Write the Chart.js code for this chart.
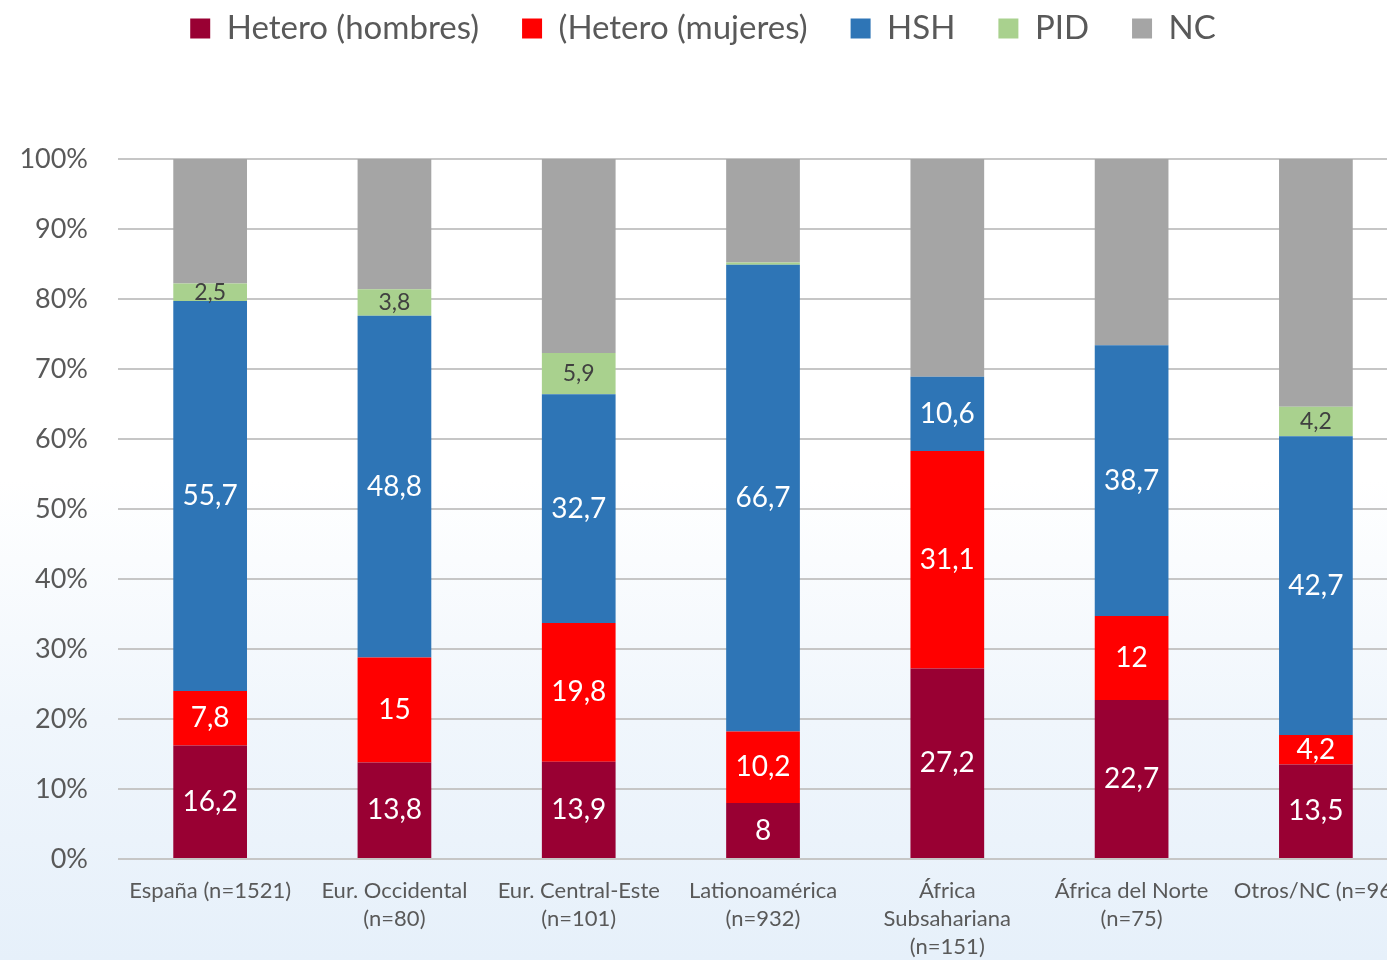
<!DOCTYPE html>
<html>
<head>
<meta charset="utf-8">
<script src="https://cdn.jsdelivr.net/npm/chart.js@4.4.1/dist/chart.umd.min.js"></script>
<style>
  html, body { margin: 0; padding: 0; overflow: hidden; width: 1387px; height: 960px; }
  body { background: linear-gradient(180deg, #ffffff 0%, #ffffff 50%, #f0f6fc 75%, #e6f0fa 100%); }
  canvas { display: block; }
</style>
</head>
<body>
<canvas id="chart" width="1416" height="960"></canvas>
<script>
const categories = [
  "España (n=1521)",
  ["Eur. Occidental", "(n=80)"],
  ["Eur. Central-Este", "(n=101)"],
  ["Lationoamérica", "(n=932)"],
  ["África", "Subsahariana", "(n=151)"],
  ["África del Norte", "(n=75)"],
  "Otros/NC (n=96)"
];
const heteroHombres = [16.2, 13.8, 13.9, 8, 27.2, 22.7, 13.5];
const heteroMujeres = [7.8, 15, 19.8, 10.2, 31.1, 12, 4.2];
const hsh = [55.7, 48.8, 32.7, 66.7, 10.6, 38.7, 42.7];
const pid = [2.5, 3.8, 5.9, 0.3, 0, 0, 4.2];
const nc = [17.8, 18.6, 27.7, 14.8, 31.1, 26.6, 35.4];
const yTickLabels = ["0%", "10%", "20%", "30%", "40%", "50%", "60%", "70%", "80%", "90%", "100%"];

const FONT = "Lato, 'Open Sans', sans-serif";
const TEXT = "#595959";

// values written inside each segment (NC has none)
const segmentLabels = {
  id: "segmentLabels",
  afterDatasetsDraw(chart) {
    const ctx = chart.ctx;
    chart.data.datasets.forEach((ds, i) => {
      if (ds.label === "NC") return;
      const meta = chart.getDatasetMeta(i);
      meta.data.forEach((bar, j) => {
        const v = ds.data[j];
        if (!v || v < 1) return;
        const isPid = ds.label === "PID";
        ctx.save();
        ctx.font = (isPid ? "23px " : "28px ") + FONT;
        ctx.fillStyle = isPid ? "#404040" : "#ffffff";
        ctx.textAlign = "center";
        ctx.textBaseline = "middle";
        ctx.fillText(String(v).replace(".", ","), bar.x, (bar.y + bar.base) / 2);
        ctx.restore();
      });
    });
  }
};

// legend sits near the top edge, big gap below it
const legendSpacing = {
  id: "legendSpacing",
  beforeInit(chart) {
    const fit = chart.legend.fit;
    chart.legend.fit = function () {
      fit.call(this);
      this.height = 159;
    };
  },
  afterLayout(chart) {
    const lg = chart.legend;
    lg.top = -31;
    lg.left = -3;
    lg.right = 1409;
  }
};

new Chart(document.getElementById("chart"), {
  type: "bar",
  data: {
    labels: categories,
    datasets: [
      { label: "Hetero (hombres)", data: heteroHombres, backgroundColor: "#990033" },
      { label: "(Hetero (mujeres)", data: heteroMujeres, backgroundColor: "#ff0000" },
      { label: "HSH", data: hsh, backgroundColor: "#2e75b6" },
      { label: "PID", data: pid, backgroundColor: "#a9d18e" },
      { label: "NC", data: nc, backgroundColor: "#a5a5a5" }
    ]
  },
  options: {
    responsive: false,
    animation: false,
    layout: { padding: 0 },
    datasets: { bar: { categoryPercentage: 1, barPercentage: 0.4 } },
    plugins: {
      tooltip: { enabled: false },
      legend: {
        position: "top",
        labels: {
          boxWidth: 20,
          boxHeight: 20,
          padding: 43,
          color: TEXT,
          font: { size: 33, family: FONT }
        }
      }
    },
    scales: {
      x: {
        stacked: true,
        grid: { display: false, drawTicks: false },
        border: { display: false },
        ticks: {
          color: TEXT,
          autoSkip: false,
          maxRotation: 0,
          padding: 18,
          font: { size: 22, family: FONT, lineHeight: 1.27 }
        },
        afterFit(scale) { scale.height = 101; }
      },
      y: {
        stacked: true,
        min: 0,
        max: 100,
        grid: { color: "#c6c6c6", lineWidth: 2, drawTicks: false },
        border: { display: false },
        ticks: {
          stepSize: 10,
          color: TEXT,
          padding: 30,
          font: { size: 27, family: FONT },
          callback: (v, i) => yTickLabels[i]
        },
        afterFit(scale) { scale.width = 118; }
      }
    }
  },
  plugins: [segmentLabels, legendSpacing]
});
</script>
</body>
</html>
